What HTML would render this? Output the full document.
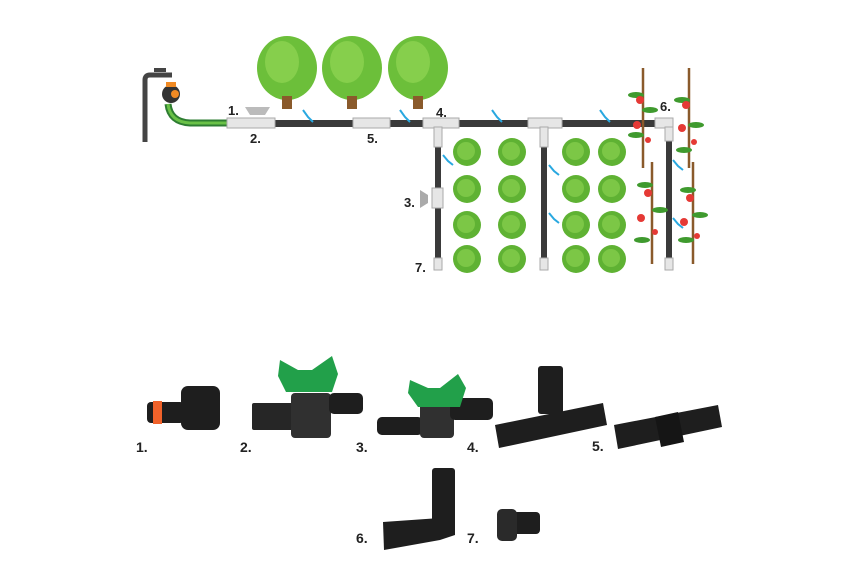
<!DOCTYPE html>
<html><head><style>
body{margin:0;background:#fff;}
svg{display:block;font-family:"Liberation Sans",sans-serif;font-weight:bold;}
</style></head><body>
<svg width="850" height="567" viewBox="0 0 850 567">
<defs>
<g id="tree"><ellipse cx="0" cy="-28" rx="30" ry="32" fill="#6cbf3a"/><ellipse cx="-5" cy="-34" rx="17" ry="21" fill="#86cf4c"/><rect x="-5" y="0" width="10" height="13" fill="#8a5a2b"/></g>
<g id="let"><circle r="14" fill="#5fb233"/><circle r="9" cx="-1" cy="-1" fill="#7cc746"/></g>
</defs>
<!-- faucet -->
<path d="M145 142 V80 Q145 75 150 75 H172" stroke="#444" stroke-width="5" fill="none"/>
<rect x="154" y="68" width="12" height="4" fill="#444"/>
<circle cx="171" cy="94" r="9" fill="#333"/><circle cx="175" cy="94" r="4" fill="#f08a24"/>
<rect x="166" y="82" width="10" height="5" fill="#f08a24"/>
<path d="M168 104 Q170 122 190 123 H228" stroke="#2e7d32" stroke-width="7" fill="none"/>
<path d="M168 104 Q170 122 190 123 H228" stroke="#6ac147" stroke-width="3" fill="none"/>
<!-- main pipe -->
<rect x="228" y="120" width="438" height="7" fill="#3a3a3a"/>
<rect x="227" y="118" width="48" height="10" fill="#e6e6e6" stroke="#aaa"/>
<rect x="353" y="118" width="37" height="10" fill="#e6e6e6" stroke="#aaa"/>
<rect x="423" y="118" width="36" height="10" fill="#e6e6e6" stroke="#aaa"/>
<rect x="528" y="118" width="34" height="10" fill="#e6e6e6" stroke="#aaa"/>
<rect x="655" y="118" width="18" height="10" fill="#e6e6e6" stroke="#aaa"/>
<path d="M245 107 h25 l-5 8 h-15z" fill="#bbb"/>
<!-- verticals -->
<rect x="435" y="127" width="6" height="140" fill="#3a3a3a"/>
<rect x="541" y="127" width="6" height="140" fill="#3a3a3a"/>
<rect x="666" y="127" width="6" height="140" fill="#3a3a3a"/>
<rect x="434" y="127" width="8" height="20" fill="#e6e6e6" stroke="#aaa"/>
<rect x="540" y="127" width="8" height="20" fill="#e6e6e6" stroke="#aaa"/>
<rect x="665" y="127" width="8" height="14" fill="#e6e6e6" stroke="#aaa"/>
<rect x="434" y="258" width="8" height="12" fill="#e6e6e6" stroke="#aaa"/>
<rect x="540" y="258" width="8" height="12" fill="#e6e6e6" stroke="#aaa"/>
<rect x="665" y="258" width="8" height="12" fill="#e6e6e6" stroke="#aaa"/>
<rect x="432" y="188" width="11" height="20" fill="#e6e6e6" stroke="#aaa"/>
<path d="M420 190 l8 5 v8 l-8 5z" fill="#aaa"/>
<!-- trees -->
<use href="#tree" x="287" y="96"/><use href="#tree" x="352" y="96"/><use href="#tree" x="418" y="96"/>
<!-- lettuce -->
<g>
<use href="#let" x="467" y="152"/><use href="#let" x="512" y="152"/><use href="#let" x="576" y="152"/><use href="#let" x="612" y="152"/>
<use href="#let" x="467" y="189"/><use href="#let" x="512" y="189"/><use href="#let" x="576" y="189"/><use href="#let" x="612" y="189"/>
<use href="#let" x="467" y="225"/><use href="#let" x="512" y="225"/><use href="#let" x="576" y="225"/><use href="#let" x="612" y="225"/>
<use href="#let" x="467" y="259"/><use href="#let" x="512" y="259"/><use href="#let" x="576" y="259"/><use href="#let" x="612" y="259"/>
</g>
<!-- tomatoes -->
<g stroke="#8a5a2b" stroke-width="2.5"><line x1="643" y1="68" x2="643" y2="168"/><line x1="689" y1="68" x2="689" y2="168"/><line x1="652" y1="162" x2="652" y2="264"/><line x1="693" y1="162" x2="693" y2="264"/></g>
<g fill="#3f9a2e"><ellipse cx="636" cy="95" rx="8" ry="3"/><ellipse cx="650" cy="110" rx="8" ry="3"/><ellipse cx="636" cy="135" rx="8" ry="3"/><ellipse cx="682" cy="100" rx="8" ry="3"/><ellipse cx="696" cy="125" rx="8" ry="3"/><ellipse cx="684" cy="150" rx="8" ry="3"/><ellipse cx="645" cy="185" rx="8" ry="3"/><ellipse cx="660" cy="210" rx="8" ry="3"/><ellipse cx="642" cy="240" rx="8" ry="3"/><ellipse cx="688" cy="190" rx="8" ry="3"/><ellipse cx="700" cy="215" rx="8" ry="3"/><ellipse cx="686" cy="240" rx="8" ry="3"/></g>
<g fill="#e53935"><circle cx="640" cy="100" r="4"/><circle cx="637" cy="125" r="4"/><circle cx="648" cy="140" r="3"/><circle cx="686" cy="105" r="4"/><circle cx="682" cy="128" r="4"/><circle cx="694" cy="142" r="3"/><circle cx="648" cy="193" r="4"/><circle cx="641" cy="218" r="4"/><circle cx="655" cy="232" r="3"/><circle cx="690" cy="198" r="4"/><circle cx="684" cy="222" r="4"/><circle cx="697" cy="236" r="3"/></g>
<!-- water drips -->
<g stroke="#29a8e0" stroke-width="2" fill="none">
<path d="M303 110 l5 7 l5 5"/><path d="M400 110 l5 7 l5 5"/><path d="M443 155 l5 6 l5 4"/><path d="M492 110 l5 7 l5 5"/><path d="M549 165 l5 6 l5 4"/><path d="M549 213 l5 6 l5 4"/><path d="M600 110 l5 7 l5 5"/><path d="M673 160 l5 6 l5 4"/><path d="M673 218 l5 6 l5 4"/>
</g>
<!-- labels top -->
<g font-size="13" fill="#222">
<text x="228" y="115">1.</text><text x="250" y="143">2.</text><text x="367" y="143">5.</text><text x="436" y="117">4.</text><text x="660" y="111">6.</text><text x="404" y="207">3.</text><text x="415" y="272">7.</text>
</g>
<!-- bottom parts -->
<g fill="#1e1e1e">
<rect x="147" y="402" width="37" height="21" rx="4"/>
<rect x="153" y="401" width="9" height="23" fill="#f0622a"/>
<rect x="181" y="386" width="39" height="44" rx="7"/>
<rect x="252" y="403" width="42" height="27" rx="2" fill="#262626"/>
<rect x="291" y="393" width="40" height="45" rx="4" fill="#303030"/>
<rect x="329" y="393" width="34" height="21" rx="5"/>
<path d="M280 360 l18 10 h14 l20 -14 l6 18 l-6 18 h-46 l-8 -16z" fill="#22a04a"/>
<rect x="377" y="417" width="46" height="18" rx="5"/>
<rect x="420" y="403" width="34" height="35" rx="4" fill="#303030"/>
<rect x="450" y="398" width="43" height="22" rx="5"/>
<path d="M410 380 l18 8 h12 l18 -14 l8 14 l-6 19 h-42 l-10 -14z" fill="#22a04a"/>
<rect x="538" y="366" width="25" height="48" rx="3"/>
<path d="M495 425 L603 403 L607 425 L499 448z"/>
<path d="M614 425 L718 405 L722 427 L618 449z"/>
<path d="M655 417 L678 412 L684 442 L661 447z" fill="#151515"/>
<rect x="432" y="468" width="23" height="60" rx="3"/>
<path d="M383 522 L440 518 L455 522 V535 L440 540 L384 550z"/>
<rect x="500" y="512" width="40" height="22" rx="4"/>
<rect x="497" y="509" width="20" height="32" rx="5" fill="#2a2a2a"/>
</g>
<g font-size="14" fill="#222">
<text x="136" y="452">1.</text><text x="240" y="452">2.</text><text x="356" y="452">3.</text><text x="467" y="452">4.</text><text x="592" y="451">5.</text><text x="356" y="543">6.</text><text x="467" y="543">7.</text>
</g>
</svg>
</body></html>
